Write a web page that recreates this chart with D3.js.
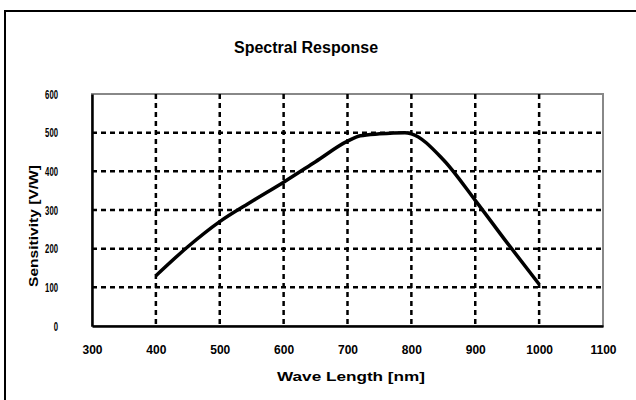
<!DOCTYPE html>
<html>
<head>
<script src="https://cdn.jsdelivr.net/npm/d3@7"></script>
<style>
body { margin: 0; background: white; }
text { font-family: "Liberation Sans", Arial, sans-serif; font-weight: bold; fill: black; }
.tick text { font-size: 12px; }
</style>
</head>
<body>
<script>
// spectral response curve
var waveLength = [400, 450, 500, 550, 600, 650, 700, 720, 750, 790, 800, 850, 900, 950, 1000];
var sensitivity = [130, 205, 270, 322, 372, 425, 478, 492, 497, 500, 497, 430, 325, 215, 108];
var xTicks = [300, 400, 500, 600, 700, 800, 900, 1000, 1100];
var yTicks = [0, 100, 200, 300, 400, 500, 600];

var w = 636, h = 400;
var plotL = 92, plotR = 603, plotT = 94, plotB = 326;

var svg = d3.select("body").append("svg")
	.attr("width", w)
	.attr("height", h);

// outer frame
svg.append("rect")
	.attr("x", 5).attr("y", 11)
	.attr("width", 640).attr("height", 400)
	.attr("fill", "none").attr("stroke", "black").attr("stroke-width", 2);

var x = d3.scaleLinear().domain([300, 1100]).range([plotL, plotR]);
var y = d3.scaleLinear().domain([0, 600]).range([plotB, plotT]);

// plot border (grey)
svg.append("rect")
	.attr("x", plotL).attr("y", plotT)
	.attr("width", plotR - plotL).attr("height", plotB - plotT)
	.attr("fill", "none").attr("stroke", "#888").attr("stroke-width", 2);

// dashed grid
svg.append("g").selectAll("line").data(xTicks.slice(1, -1)).enter().append("line")
	.attr("x1", x).attr("x2", x)
	.attr("y1", plotT).attr("y2", plotB)
	.attr("stroke", "black").attr("stroke-width", 2.5).attr("stroke-dasharray", "5,4");
svg.append("g").selectAll("line").data(yTicks.slice(1, -1)).enter().append("line")
	.attr("y1", y).attr("y2", y)
	.attr("x1", plotL).attr("x2", plotR)
	.attr("stroke", "black").attr("stroke-width", 2.5).attr("stroke-dasharray", "5,4");

// axes
var xAxis = svg.append("g").attr("transform", "translate(0," + plotB + ")")
	.call(d3.axisBottom(x).tickValues(xTicks).tickSize(0).tickPadding(19).tickFormat(d3.format("d")));
var yAxis = svg.append("g").attr("transform", "translate(" + plotL + ",0)")
	.call(d3.axisLeft(y).tickValues(yTicks).tickSize(0).tickPadding(34).tickFormat(d3.format("d")));
xAxis.select(".domain").attr("stroke", "black").attr("stroke-width", 2.5);
yAxis.select(".domain").attr("stroke", "black").attr("stroke-width", 2.5);
// narrow y labels as in the picture
yAxis.selectAll(".tick text")
	.style("font-size", "13px")
	.attr("textLength", function(d) { return String(d).length * 4.3; })
	.attr("lengthAdjust", "spacingAndGlyphs");

// curve
var line = d3.line()
	.x(function(d, i) { return x(waveLength[i]); })
	.y(function(d) { return y(d); })
	.curve(d3.curveMonotoneX);
svg.append("path")
	.datum(sensitivity)
	.attr("d", line)
	.attr("fill", "none").attr("stroke", "black").attr("stroke-width", 3.5)
	.attr("stroke-linejoin", "round");

// titles
svg.append("text").attr("x", 306).attr("y", 53)
	.attr("text-anchor", "middle").style("font-size", "16px")
	.text("Spectral Response");
svg.append("text").attr("x", 351).attr("y", 381)
	.attr("text-anchor", "middle").style("font-size", "13px")
	.attr("textLength", 148).attr("lengthAdjust", "spacingAndGlyphs")
	.text("Wave Length [nm]");
svg.append("text").attr("transform", "translate(38,226) rotate(-90)")
	.attr("text-anchor", "middle").style("font-size", "13px")
	.attr("textLength", 122).attr("lengthAdjust", "spacingAndGlyphs")
	.text("Sensitivity [V/W]");
</script>
</body>
</html>
